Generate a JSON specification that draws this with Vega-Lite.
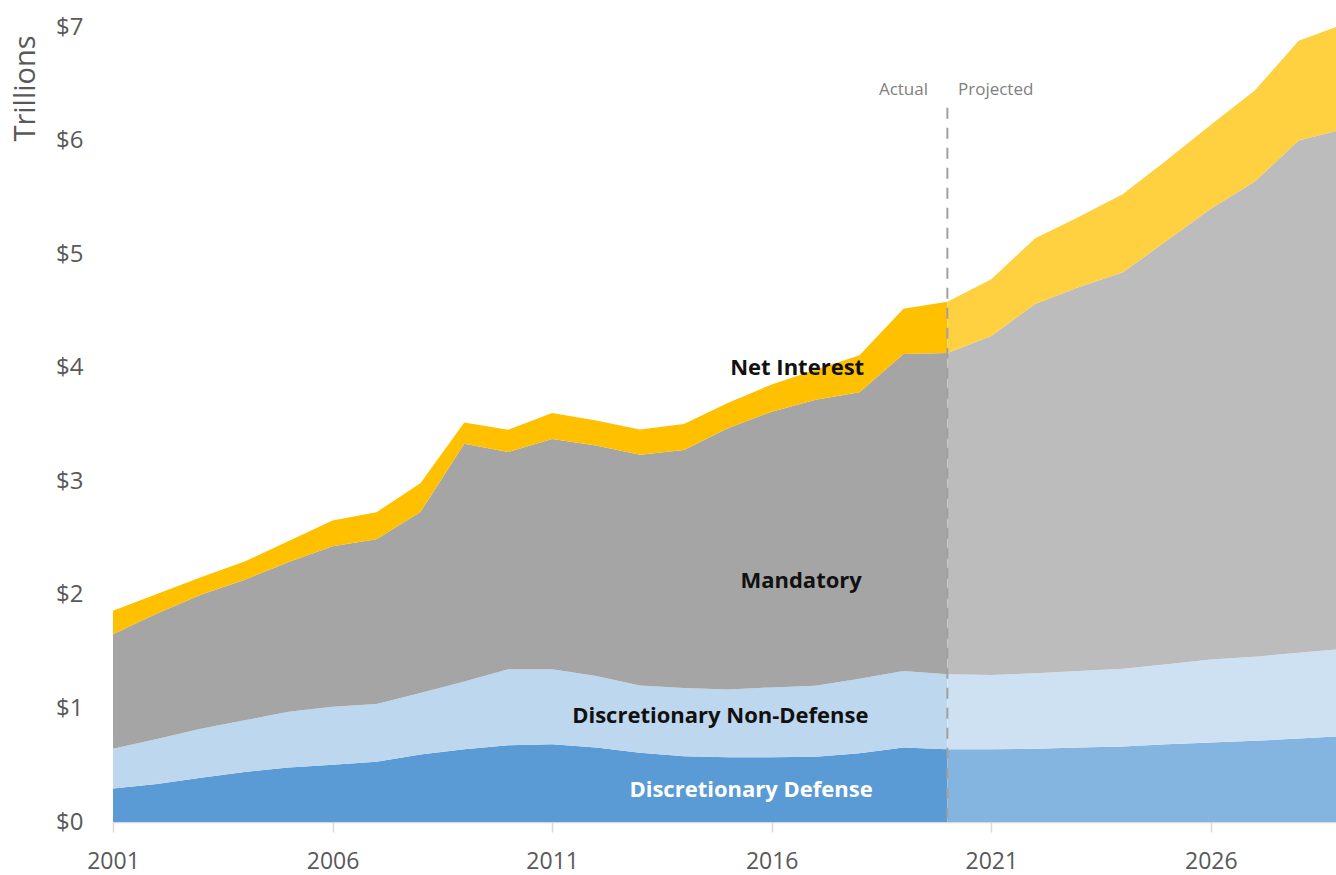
{
  "$schema": "https://vega.github.io/schema/vega-lite/v6.json",
  "width": 1223,
  "height": 795,
  "autosize": {"type": "none"},
  "padding": {"left": 113, "top": 27, "right": 0, "bottom": 53},
  "background": "white",
  "config": {"view": {"stroke": null}, "font": "Open Sans"},
  "datasets": {
    "spend": [
      {"year": 2001, "period": "Actual", "cat": "Discretionary Defense", "value": 0.295},
      {"year": 2001, "period": "Actual", "cat": "Discretionary Non-Defense", "value": 0.35},
      {"year": 2001, "period": "Actual", "cat": "Mandatory", "value": 1.008},
      {"year": 2001, "period": "Actual", "cat": "Net Interest", "value": 0.206},
      {"year": 2002, "period": "Actual", "cat": "Discretionary Defense", "value": 0.335},
      {"year": 2002, "period": "Actual", "cat": "Discretionary Non-Defense", "value": 0.395},
      {"year": 2002, "period": "Actual", "cat": "Mandatory", "value": 1.106},
      {"year": 2002, "period": "Actual", "cat": "Net Interest", "value": 0.171},
      {"year": 2003, "period": "Actual", "cat": "Discretionary Defense", "value": 0.39},
      {"year": 2003, "period": "Actual", "cat": "Discretionary Non-Defense", "value": 0.43},
      {"year": 2003, "period": "Actual", "cat": "Mandatory", "value": 1.182},
      {"year": 2003, "period": "Actual", "cat": "Net Interest", "value": 0.153},
      {"year": 2004, "period": "Actual", "cat": "Discretionary Defense", "value": 0.44},
      {"year": 2004, "period": "Actual", "cat": "Discretionary Non-Defense", "value": 0.455},
      {"year": 2004, "period": "Actual", "cat": "Mandatory", "value": 1.238},
      {"year": 2004, "period": "Actual", "cat": "Net Interest", "value": 0.16},
      {"year": 2005, "period": "Actual", "cat": "Discretionary Defense", "value": 0.48},
      {"year": 2005, "period": "Actual", "cat": "Discretionary Non-Defense", "value": 0.49},
      {"year": 2005, "period": "Actual", "cat": "Mandatory", "value": 1.32},
      {"year": 2005, "period": "Actual", "cat": "Net Interest", "value": 0.184},
      {"year": 2006, "period": "Actual", "cat": "Discretionary Defense", "value": 0.505},
      {"year": 2006, "period": "Actual", "cat": "Discretionary Non-Defense", "value": 0.51},
      {"year": 2006, "period": "Actual", "cat": "Mandatory", "value": 1.412},
      {"year": 2006, "period": "Actual", "cat": "Net Interest", "value": 0.227},
      {"year": 2007, "period": "Actual", "cat": "Discretionary Defense", "value": 0.53},
      {"year": 2007, "period": "Actual", "cat": "Discretionary Non-Defense", "value": 0.51},
      {"year": 2007, "period": "Actual", "cat": "Mandatory", "value": 1.45},
      {"year": 2007, "period": "Actual", "cat": "Net Interest", "value": 0.237},
      {"year": 2008, "period": "Actual", "cat": "Discretionary Defense", "value": 0.595},
      {"year": 2008, "period": "Actual", "cat": "Discretionary Non-Defense", "value": 0.54},
      {"year": 2008, "period": "Actual", "cat": "Mandatory", "value": 1.595},
      {"year": 2008, "period": "Actual", "cat": "Net Interest", "value": 0.253},
      {"year": 2009, "period": "Actual", "cat": "Discretionary Defense", "value": 0.64},
      {"year": 2009, "period": "Actual", "cat": "Discretionary Non-Defense", "value": 0.597},
      {"year": 2009, "period": "Actual", "cat": "Mandatory", "value": 2.093},
      {"year": 2009, "period": "Actual", "cat": "Net Interest", "value": 0.187},
      {"year": 2010, "period": "Actual", "cat": "Discretionary Defense", "value": 0.675},
      {"year": 2010, "period": "Actual", "cat": "Discretionary Non-Defense", "value": 0.67},
      {"year": 2010, "period": "Actual", "cat": "Mandatory", "value": 1.913},
      {"year": 2010, "period": "Actual", "cat": "Net Interest", "value": 0.196},
      {"year": 2011, "period": "Actual", "cat": "Discretionary Defense", "value": 0.685},
      {"year": 2011, "period": "Actual", "cat": "Discretionary Non-Defense", "value": 0.661},
      {"year": 2011, "period": "Actual", "cat": "Mandatory", "value": 2.026},
      {"year": 2011, "period": "Actual", "cat": "Net Interest", "value": 0.23},
      {"year": 2012, "period": "Actual", "cat": "Discretionary Defense", "value": 0.655},
      {"year": 2012, "period": "Actual", "cat": "Discretionary Non-Defense", "value": 0.631},
      {"year": 2012, "period": "Actual", "cat": "Mandatory", "value": 2.03},
      {"year": 2012, "period": "Actual", "cat": "Net Interest", "value": 0.22},
      {"year": 2013, "period": "Actual", "cat": "Discretionary Defense", "value": 0.61},
      {"year": 2013, "period": "Actual", "cat": "Discretionary Non-Defense", "value": 0.592},
      {"year": 2013, "period": "Actual", "cat": "Mandatory", "value": 2.032},
      {"year": 2013, "period": "Actual", "cat": "Net Interest", "value": 0.221},
      {"year": 2014, "period": "Actual", "cat": "Discretionary Defense", "value": 0.58},
      {"year": 2014, "period": "Actual", "cat": "Discretionary Non-Defense", "value": 0.599},
      {"year": 2014, "period": "Actual", "cat": "Mandatory", "value": 2.096},
      {"year": 2014, "period": "Actual", "cat": "Net Interest", "value": 0.229},
      {"year": 2015, "period": "Actual", "cat": "Discretionary Defense", "value": 0.57},
      {"year": 2015, "period": "Actual", "cat": "Discretionary Non-Defense", "value": 0.597},
      {"year": 2015, "period": "Actual", "cat": "Mandatory", "value": 2.3},
      {"year": 2015, "period": "Actual", "cat": "Net Interest", "value": 0.223},
      {"year": 2016, "period": "Actual", "cat": "Discretionary Defense", "value": 0.57},
      {"year": 2016, "period": "Actual", "cat": "Discretionary Non-Defense", "value": 0.615},
      {"year": 2016, "period": "Actual", "cat": "Mandatory", "value": 2.428},
      {"year": 2016, "period": "Actual", "cat": "Net Interest", "value": 0.24},
      {"year": 2017, "period": "Actual", "cat": "Discretionary Defense", "value": 0.575},
      {"year": 2017, "period": "Actual", "cat": "Discretionary Non-Defense", "value": 0.625},
      {"year": 2017, "period": "Actual", "cat": "Mandatory", "value": 2.519},
      {"year": 2017, "period": "Actual", "cat": "Net Interest", "value": 0.263},
      {"year": 2018, "period": "Actual", "cat": "Discretionary Defense", "value": 0.605},
      {"year": 2018, "period": "Actual", "cat": "Discretionary Non-Defense", "value": 0.657},
      {"year": 2018, "period": "Actual", "cat": "Mandatory", "value": 2.522},
      {"year": 2018, "period": "Actual", "cat": "Net Interest", "value": 0.325},
      {"year": 2019, "period": "Actual", "cat": "Discretionary Defense", "value": 0.655},
      {"year": 2019, "period": "Actual", "cat": "Discretionary Non-Defense", "value": 0.675},
      {"year": 2019, "period": "Actual", "cat": "Mandatory", "value": 2.79},
      {"year": 2019, "period": "Actual", "cat": "Net Interest", "value": 0.4},
      {"year": 2020, "period": "Actual", "cat": "Discretionary Defense", "value": 0.64},
      {"year": 2020, "period": "Actual", "cat": "Discretionary Non-Defense", "value": 0.66},
      {"year": 2020, "period": "Actual", "cat": "Mandatory", "value": 2.83},
      {"year": 2020, "period": "Actual", "cat": "Net Interest", "value": 0.45},
      {"year": 2020, "period": "Projected", "cat": "Discretionary Defense", "value": 0.64},
      {"year": 2020, "period": "Projected", "cat": "Discretionary Non-Defense", "value": 0.66},
      {"year": 2020, "period": "Projected", "cat": "Mandatory", "value": 2.83},
      {"year": 2020, "period": "Projected", "cat": "Net Interest", "value": 0.45},
      {"year": 2021, "period": "Projected", "cat": "Discretionary Defense", "value": 0.64},
      {"year": 2021, "period": "Projected", "cat": "Discretionary Non-Defense", "value": 0.655},
      {"year": 2021, "period": "Projected", "cat": "Mandatory", "value": 2.985},
      {"year": 2021, "period": "Projected", "cat": "Net Interest", "value": 0.5},
      {"year": 2022, "period": "Projected", "cat": "Discretionary Defense", "value": 0.645},
      {"year": 2022, "period": "Projected", "cat": "Discretionary Non-Defense", "value": 0.665},
      {"year": 2022, "period": "Projected", "cat": "Mandatory", "value": 3.25},
      {"year": 2022, "period": "Projected", "cat": "Net Interest", "value": 0.58},
      {"year": 2023, "period": "Projected", "cat": "Discretionary Defense", "value": 0.655},
      {"year": 2023, "period": "Projected", "cat": "Discretionary Non-Defense", "value": 0.675},
      {"year": 2023, "period": "Projected", "cat": "Mandatory", "value": 3.38},
      {"year": 2023, "period": "Projected", "cat": "Net Interest", "value": 0.62},
      {"year": 2024, "period": "Projected", "cat": "Discretionary Defense", "value": 0.665},
      {"year": 2024, "period": "Projected", "cat": "Discretionary Non-Defense", "value": 0.685},
      {"year": 2024, "period": "Projected", "cat": "Mandatory", "value": 3.49},
      {"year": 2024, "period": "Projected", "cat": "Net Interest", "value": 0.69},
      {"year": 2025, "period": "Projected", "cat": "Discretionary Defense", "value": 0.685},
      {"year": 2025, "period": "Projected", "cat": "Discretionary Non-Defense", "value": 0.705},
      {"year": 2025, "period": "Projected", "cat": "Mandatory", "value": 3.73},
      {"year": 2025, "period": "Projected", "cat": "Net Interest", "value": 0.71},
      {"year": 2026, "period": "Projected", "cat": "Discretionary Defense", "value": 0.7},
      {"year": 2026, "period": "Projected", "cat": "Discretionary Non-Defense", "value": 0.73},
      {"year": 2026, "period": "Projected", "cat": "Mandatory", "value": 3.97},
      {"year": 2026, "period": "Projected", "cat": "Net Interest", "value": 0.74},
      {"year": 2027, "period": "Projected", "cat": "Discretionary Defense", "value": 0.715},
      {"year": 2027, "period": "Projected", "cat": "Discretionary Non-Defense", "value": 0.74},
      {"year": 2027, "period": "Projected", "cat": "Mandatory", "value": 4.185},
      {"year": 2027, "period": "Projected", "cat": "Net Interest", "value": 0.8},
      {"year": 2028, "period": "Projected", "cat": "Discretionary Defense", "value": 0.735},
      {"year": 2028, "period": "Projected", "cat": "Discretionary Non-Defense", "value": 0.755},
      {"year": 2028, "period": "Projected", "cat": "Mandatory", "value": 4.51},
      {"year": 2028, "period": "Projected", "cat": "Net Interest", "value": 0.88},
      {"year": 2029, "period": "Projected", "cat": "Discretionary Defense", "value": 0.755},
      {"year": 2029, "period": "Projected", "cat": "Discretionary Non-Defense", "value": 0.77},
      {"year": 2029, "period": "Projected", "cat": "Mandatory", "value": 4.575},
      {"year": 2029, "period": "Projected", "cat": "Net Interest", "value": 0.92}
    ],
    "divider": [{"year": 2020, "v0": 0, "v1": 6.29}],
    "labels": [
      {"year": 2016.58, "v1": 4.0, "label": "Net Interest"},
      {"year": 2016.67, "v1": 2.12, "label": "Mandatory"},
      {"year": 2014.83, "v1": 0.93, "label": "Discretionary Non-Defense"},
      {"year": 2015.53, "v1": 0.28, "label": "Discretionary Defense"}
    ],
    "periods": [
      {"year": 2019.0, "v1": 6.445, "label": "Actual"},
      {"year": 2021.1, "v1": 6.445, "label": "Projected"}
    ]
  },
  "encoding": {
    "x": {
      "field": "year",
      "type": "quantitative",
      "scale": {"domain": [2001, 2028.85], "nice": false, "zero": false},
      "axis": {
        "values": [2001, 2006, 2011, 2016, 2021, 2026],
        "format": "d",
        "title": null,
        "grid": false,
        "labelFontSize": 23,
        "labelColor": "#595959",
        "labelFlush": false,
        "labelOverlap": false,
        "labelBaseline": "middle",
        "labelPadding": 29,
        "tickColor": "#d9d9d9",
        "tickSize": 10,
        "tickWidth": 1.5,
        "domainColor": "#d9d9d9",
        "domainWidth": 1.5
      }
    },
    "y": {
      "field": "v1",
      "type": "quantitative",
      "scale": {"domain": [0, 7], "nice": false},
      "axis": {
        "values": [0, 1, 2, 3, 4, 5, 6, 7],
        "labelExpr": "'$' + datum.value",
        "grid": false,
        "domain": false,
        "ticks": false,
        "labelFontSize": 24,
        "labelColor": "#595959",
        "labelPadding": 30,
        "title": "Trillions",
        "titleFontSize": 29,
        "titleFontWeight": "normal",
        "titleColor": "#595959",
        "titleAngle": -90,
        "titleX": -88,
        "titleY": 61,
        "titleAlign": "center",
        "titleBaseline": "middle"
      }
    }
  },
  "layer": [
    {
      "data": {"name": "spend"},
      "transform": [
        {"stack": "value", "groupby": ["year", "period"], "sort": [{"field": "cat", "order": "ascending"}], "as": ["v0", "v1"]}
      ],
      "layer": [
        {
          "transform": [{"filter": "datum.period === 'Actual'"}],
          "mark": {"type": "area", "clip": true},
          "encoding": {
            "y2": {"field": "v0"},
            "color": {
              "field": "cat",
              "type": "nominal",
              "scale": {"domain": ["Discretionary Defense", "Discretionary Non-Defense", "Mandatory", "Net Interest"], "range": ["#5b9bd5", "#bdd7ee", "#a5a5a5", "#ffc000"]},
              "legend": null
            }
          }
        },
        {
          "transform": [{"filter": "datum.period === 'Projected'"}],
          "mark": {"type": "area", "clip": true},
          "encoding": {
            "y2": {"field": "v0"},
            "color": {
              "field": "cat",
              "type": "nominal",
              "scale": {"domain": ["Discretionary Defense", "Discretionary Non-Defense", "Mandatory", "Net Interest"], "range": ["#84b4e0", "#cee1f2", "#bcbcbc", "#ffd040"]},
              "legend": null
            }
          }
        }
      ],
      "resolve": {"scale": {"color": "independent"}}
    },
    {
      "data": {"name": "divider"},
      "mark": {"type": "rule", "color": "#a0a0a0", "strokeWidth": 2, "strokeDash": [11, 9]},
      "encoding": {"y2": {"field": "v0"}}
    },
    {
      "data": {"name": "labels"},
      "mark": {"type": "text", "fontSize": 22, "fontWeight": "bold", "align": "center", "baseline": "middle"},
      "encoding": {
        "text": {"field": "label"},
        "color": {"condition": {"test": "datum.label === 'Discretionary Defense'", "value": "#ffffff"}, "value": "#111111"}
      }
    },
    {
      "data": {"name": "periods"},
      "mark": {"type": "text", "fontSize": 17, "align": "center", "baseline": "middle", "color": "#808080"},
      "encoding": {"text": {"field": "label"}}
    }
  ]
}
